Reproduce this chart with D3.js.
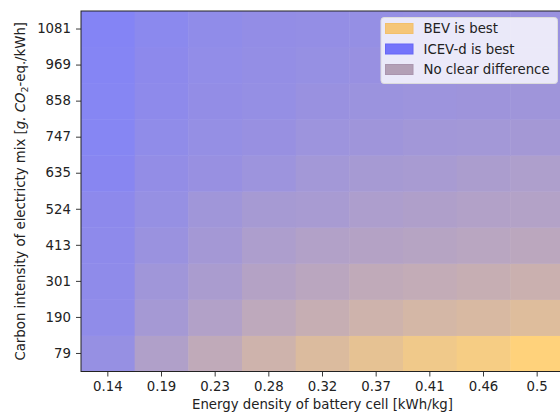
<!DOCTYPE html>
<html><head><meta charset="utf-8">
<script src="https://cdn.jsdelivr.net/npm/d3@7"></script>
<style>body{margin:0;background:#fff}svg{display:block;font-family:"DejaVu Sans",sans-serif}</style>
</head><body><svg id="c" width="560" height="414"></svg>
<script>
// x categories: energy density of battery cell [kWh/kg]
const energyDensity = ["0.14","0.19","0.23","0.28","0.32","0.37","0.41","0.46","0.5"];
// y categories: carbon intensity of electricity mix [g CO2-eq./kWh]
const carbonIntensity = ["79","190","301","413","524","635","747","858","969","1081"];
// share "BEV is best" (0 = ICEV-d best, 1 = BEV best), one row per carbon intensity
const row79   = [0.15,0.36,0.49,0.60,0.71,0.80,0.88,0.93,1.00];
const row190  = [0.10,0.27,0.37,0.47,0.54,0.60,0.65,0.68,0.73];
const row301  = [0.09,0.23,0.31,0.39,0.44,0.49,0.51,0.54,0.57];
const row413  = [0.08,0.18,0.26,0.33,0.37,0.39,0.41,0.43,0.45];
const row524  = [0.07,0.15,0.23,0.28,0.29,0.33,0.35,0.37,0.38];
const row635  = [0.03,0.12,0.16,0.20,0.25,0.28,0.29,0.32,0.34];
const row747  = [0.02,0.10,0.14,0.16,0.20,0.22,0.24,0.25,0.26];
const row858  = [0.02,0.08,0.12,0.14,0.17,0.19,0.20,0.21,0.22];
const row969  = [0.01,0.07,0.11,0.13,0.15,0.16,0.17,0.18,0.19];
const row1081 = [0.00,0.06,0.10,0.12,0.13,0.14,0.15,0.16,0.17];
const rows = [row79,row190,row301,row413,row524,row635,row747,row858,row969,row1081];
const legendLabels = ["BEV is best","ICEV-d is best","No clear difference"];

const svg = d3.select("#c");
const m = {l:81, t:11, w:483, h:360.5};
const x = d3.scaleBand().domain(energyDensity).range([m.l, m.l+m.w]).padding(0);
const y = d3.scaleBand().domain(carbonIntensity).range([m.t+m.h, m.t]).padding(0);
const color = d3.scaleLinear().domain([0,1]).range(["#8484f5","#ffd27b"]).interpolate(d3.interpolateRgb);

const cells = [];
rows.forEach((r,i)=>r.forEach((v,j)=>cells.push({xi:energyDensity[j], yi:carbonIntensity[i], v})));
svg.append("g").selectAll("rect").data(cells).join("rect")
  .attr("x",d=>x(d.xi)).attr("y",d=>y(d.yi))
  .attr("width",x.bandwidth()+0.5).attr("height",y.bandwidth()+0.5)
  .attr("fill",d=>color(d.v));

// axes
const xa = svg.append("g").attr("transform",`translate(0,${m.t+m.h})`)
  .call(d3.axisBottom(x).tickSize(5).tickPadding(5));
const ya = svg.append("g").attr("transform",`translate(${m.l},0)`)
  .call(d3.axisLeft(y).tickSize(5).tickPadding(5));
[xa,ya].forEach(a=>{
  a.selectAll("text").attr("font-size","13.3px").attr("fill","#222").attr("font-family","DejaVu Sans");
  a.selectAll("line").attr("stroke","#222").attr("stroke-width",0.9);
  a.select(".domain").remove();
});
// spines
svg.append("rect").attr("x",m.l).attr("y",m.t).attr("width",m.w).attr("height",m.h)
  .attr("fill","none").attr("stroke","#222").attr("stroke-width",1);

// axis labels
svg.append("text").attr("x",m.l+m.w/2).attr("y",409).attr("text-anchor","middle")
  .attr("font-size","13.3px").attr("fill","#222").text("Energy density of battery cell [kWh/kg]");
const yl = svg.append("text").attr("transform",`translate(25,${m.t+m.h/2}) rotate(-90)`)
  .attr("text-anchor","middle").attr("font-size","13.3px").attr("fill","#222");
yl.append("tspan").text("Carbon intensity of electricty mix [");
yl.append("tspan").attr("font-style","italic").text("g. CO");
yl.append("tspan").attr("font-size","9.5px").attr("dy","3").text("2");
yl.append("tspan").attr("dy","-3").text("-eq./kWh]");

// legend
const lg = svg.append("g");
lg.append("rect").attr("x",381).attr("y",17.5).attr("width",176.5).attr("height",66)
  .attr("rx",3).attr("fill","#ffffff").attr("fill-opacity",0.8).attr("stroke","#dcdcdc").attr("stroke-width",1);
const lfill = ["#f5c679","#7474fb","#b3a0b6"];
const lstroke = ["#f2c06c","#6666f6","#aa95ae"];
legendLabels.forEach((t,i)=>{
  const cy = 28.5 + i*20.5;
  lg.append("rect").attr("x",385.5).attr("y",cy-5).attr("width",27.5).attr("height",10)
    .attr("fill",lfill[i]).attr("stroke",lstroke[i]).attr("stroke-width",1);
  lg.append("text").attr("x",423.5).attr("y",cy+4.8).attr("font-size","13.3px").attr("fill","#222").text(t);
});
</script></body></html>
